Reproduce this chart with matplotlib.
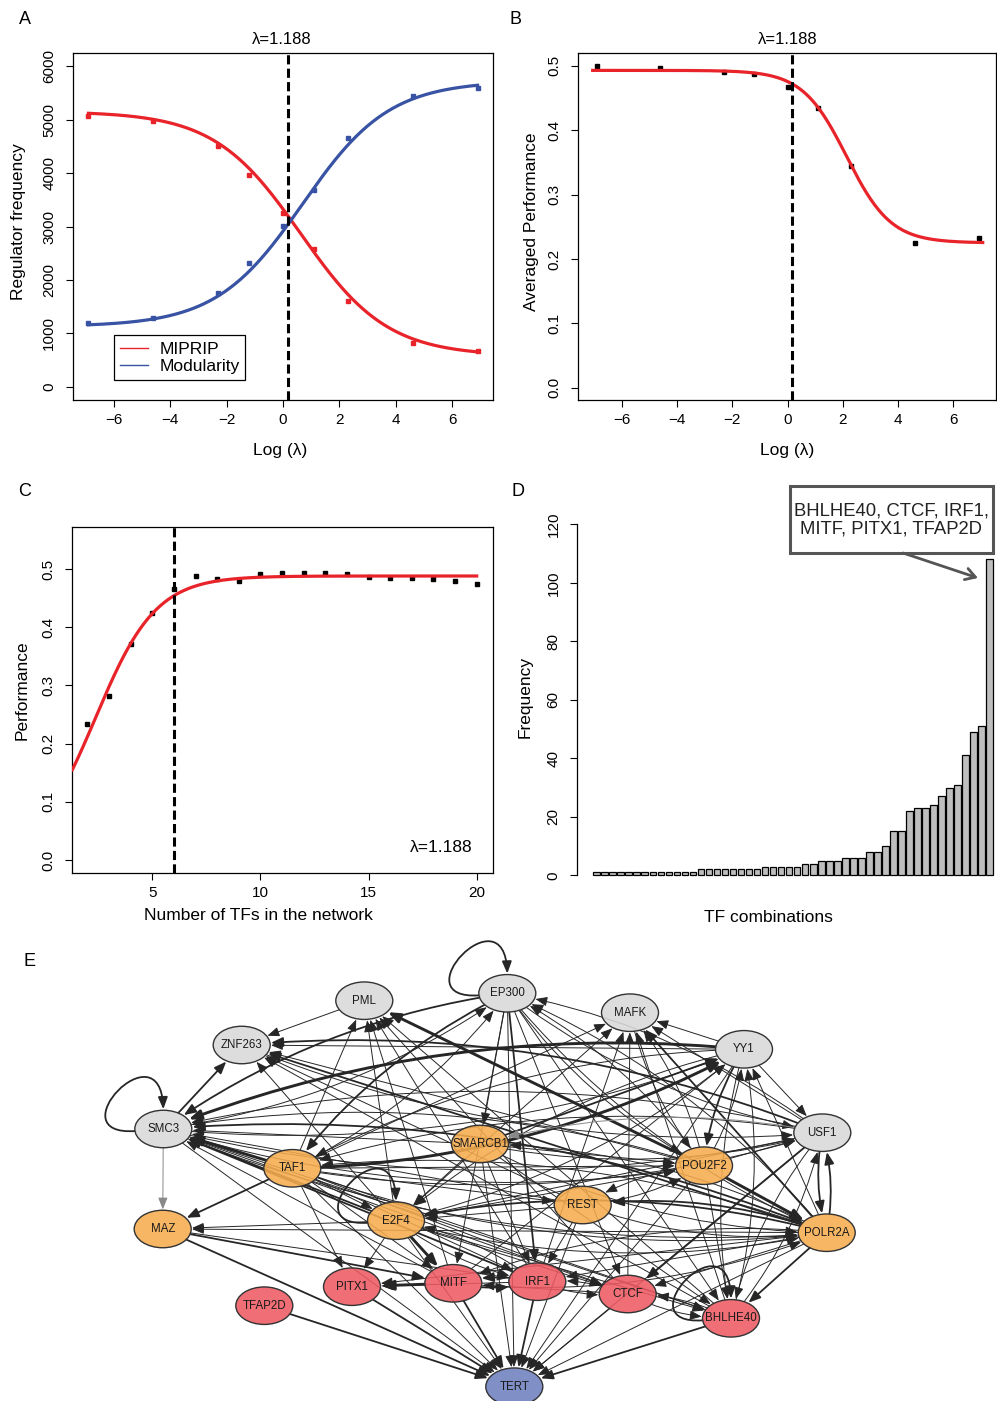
import numpy as np
import matplotlib
matplotlib.use("Agg")
import matplotlib.pyplot as plt
from matplotlib.patches import Ellipse, FancyArrowPatch, Rectangle, ArrowStyle
from matplotlib.path import Path
from matplotlib.lines import Line2D
from matplotlib.colors import to_rgba

plt.rcParams['font.family'] = ['Liberation Sans', 'DejaVu Sans']

# ------------------------------------------------------------------ data
# Panel A
lambda_a = [0.001, 0.01, 0.1, 0.3, 1, 3, 10, 100, 1000]
miprip_freq = [5071, 4978, 4510, 3963, 3258, 2574, 1613, 828, 679]
modularity_freq = [1190, 1295, 1751, 2312, 3009, 3682, 4649, 5439, 5594]
# logistic fits: (left level, right level, midpoint, slope)
miprip_fit = (5150, 580, 0.63, 0.65)
modularity_fit = (1130, 5720, 0.70, 0.65)
lambda_selected = 1.188

# Panel B
lambda_b = [0.001, 0.01, 0.1, 0.3, 1, 3, 10, 100, 1000]
avg_perf_b = [0.500, 0.497, 0.490, 0.488, 0.467, 0.435, 0.345, 0.225, 0.233]
perf_fit_b = (0.493, 0.225, 2.14, 1.25)

# Panel C
n_tfs = [2, 3, 4, 5, 6, 7, 8, 9, 10, 11, 12, 13, 14, 15, 16, 17, 18, 19, 20]
perf_c = [0.233, 0.281, 0.372, 0.425, 0.465, 0.488, 0.483, 0.480, 0.491, 0.493,
          0.493, 0.493, 0.491, 0.487, 0.485, 0.485, 0.483, 0.479, 0.475]
perf_fit_c = (0.0, 0.488, 2.37, 0.715)
n_tfs_selected = 6

# Panel D
combo_freq = [1, 1, 1, 1, 1, 1, 1, 1, 1, 1, 1, 1, 1,
              2, 2, 2, 2, 2, 2, 2, 2,
              3, 3, 3, 3, 3, 4, 4, 5, 5, 5, 6, 6, 6, 8, 8, 10, 15, 15,
              22, 23, 23, 24, 27, 30, 31, 41, 49, 51, 108]
top_combo = "BHLHE40, CTCF, IRF1,\nMITF, PITX1, TFAP2D"

# Panel E: network
node_names = ["EP300", "PML", "MAFK", "ZNF263", "YY1", "SMC3", "USF1",
              "SMARCB1", "TAF1", "POU2F2", "REST", "E2F4", "MAZ", "POLR2A",
              "PITX1", "MITF", "IRF1", "CTCF", "TFAP2D", "BHLHE40", "TERT"]
node_group = ["other", "other", "other", "other", "other", "other", "other",
              "mid", "mid", "mid", "mid", "mid", "mid", "mid",
              "core", "core", "core", "core", "core", "core", "target"]
edges = [
    ("TFAP2D", "TERT", 2), ("MAZ", "TERT", 2), ("PITX1", "TERT", 2), ("TAF1", "TERT", 1),
    ("SMC3", "TERT", 1), ("E2F4", "TERT", 1), ("MITF", "TERT", 2), ("SMARCB1", "TERT", 1),
    ("EP300", "TERT", 1), ("IRF1", "TERT", 2), ("REST", "TERT", 1), ("CTCF", "TERT", 1),
    ("POU2F2", "TERT", 1), ("POLR2A", "TERT", 1), ("BHLHE40", "TERT", 2), ("USF1", "TERT", 1),
    ("YY1", "TERT", 1),
    ("EP300", "EP300", 2), ("SMC3", "SMC3", 2), ("E2F4", "E2F4", 2), ("BHLHE40", "BHLHE40", 2),
    ("SMC3", "MAZ", 1), ("SMC3", "ZNF263", 2), ("EP300", "SMC3", 2), ("YY1", "SMC3", 3),
    ("USF1", "SMC3", 1), ("POLR2A", "SMC3", 2), ("TAF1", "SMC3", 3), ("E2F4", "SMC3", 2),
    ("MITF", "SMC3", 1), ("IRF1", "SMC3", 2), ("CTCF", "SMC3", 1), ("POU2F2", "SMC3", 1),
    ("REST", "SMC3", 1), ("SMARCB1", "SMC3", 1), ("BHLHE40", "SMC3", 1),
    ("SMC3", "USF1", 1), ("SMC3", "YY1", 1), ("SMC3", "POU2F2", 1),
    ("PML", "ZNF263", 1), ("TAF1", "PML", 1), ("MITF", "PML", 1), ("IRF1", "PML", 1),
    ("CTCF", "PML", 1), ("POU2F2", "PML", 3), ("BHLHE40", "PML", 1), ("E2F4", "PML", 1),
    ("YY1", "ZNF263", 1), ("USF1", "ZNF263", 2), ("POLR2A", "ZNF263", 2), ("POU2F2", "ZNF263", 1),
    ("E2F4", "ZNF263", 1), ("REST", "ZNF263", 1), ("BHLHE40", "ZNF263", 1), ("ZNF263", "USF1", 1),
    ("EP300", "TAF1", 2), ("EP300", "SMARCB1", 1), ("EP300", "IRF1", 2), ("EP300", "MITF", 1),
    ("EP300", "CTCF", 1), ("EP300", "BHLHE40", 1), ("EP300", "POLR2A", 1), ("EP300", "POU2F2", 1),
    ("TAF1", "EP300", 1), ("SMC3", "EP300", 1), ("USF1", "EP300", 1), ("POLR2A", "EP300", 1),
    ("TAF1", "MAFK", 1), ("E2F4", "MAFK", 1), ("CTCF", "MAFK", 1), ("IRF1", "MAFK", 1),
    ("BHLHE40", "MAFK", 1), ("POLR2A", "MAFK", 2), ("POU2F2", "MAFK", 1), ("MAFK", "POU2F2", 1),
    ("SMARCB1", "YY1", 2), ("TAF1", "YY1", 3), ("E2F4", "YY1", 1), ("POU2F2", "YY1", 1),
    ("BHLHE40", "YY1", 1), ("POLR2A", "YY1", 1), ("MITF", "YY1", 1), ("YY1", "POU2F2", 2),
    ("YY1", "USF1", 1), ("YY1", "TAF1", 1), ("YY1", "E2F4", 1), ("YY1", "BHLHE40", 1),
    ("YY1", "MAFK", 1),
    ("TAF1", "USF1", 1), ("POU2F2", "USF1", 1), ("POLR2A", "USF1", 2), ("BHLHE40", "USF1", 1),
    ("EP300", "USF1", 1), ("SMARCB1", "USF1", 1), ("USF1", "POLR2A", 2), ("USF1", "CTCF", 2),
    ("USF1", "TAF1", 1), ("USF1", "E2F4", 1), ("USF1", "MAFK", 1), ("USF1", "BHLHE40", 1),
    ("USF1", "SMARCB1", 1),
    ("TAF1", "POU2F2", 1), ("E2F4", "POU2F2", 1), ("SMARCB1", "POU2F2", 1), ("REST", "POU2F2", 1),
    ("POU2F2", "POLR2A", 3), ("POU2F2", "EP300", 1), ("POU2F2", "REST", 1), ("POU2F2", "BHLHE40", 1),
    ("TAF1", "POLR2A", 1), ("E2F4", "POLR2A", 1), ("SMARCB1", "POLR2A", 1), ("REST", "POLR2A", 1),
    ("SMC3", "POLR2A", 1), ("MITF", "POLR2A", 1), ("POLR2A", "MAZ", 1), ("POLR2A", "REST", 2),
    ("POLR2A", "E2F4", 2), ("POLR2A", "MITF", 1), ("POLR2A", "IRF1", 1), ("POLR2A", "CTCF", 1),
    ("POLR2A", "BHLHE40", 2), ("POLR2A", "TAF1", 1), ("POLR2A", "PITX1", 1), ("POLR2A", "SMARCB1", 1),
    ("TAF1", "MAZ", 2), ("TAF1", "PITX1", 1), ("TAF1", "E2F4", 1), ("TAF1", "MITF", 1),
    ("TAF1", "IRF1", 1), ("TAF1", "CTCF", 1), ("TAF1", "BHLHE40", 1), ("TAF1", "REST", 1),
    ("E2F4", "MITF", 3), ("E2F4", "MAZ", 1), ("E2F4", "PITX1", 1), ("E2F4", "IRF1", 1),
    ("E2F4", "CTCF", 1), ("E2F4", "BHLHE40", 1), ("REST", "E2F4", 1), ("SMARCB1", "E2F4", 1),
    ("IRF1", "E2F4", 1),
    ("MITF", "PITX1", 3), ("MITF", "IRF1", 2), ("IRF1", "MITF", 2), ("IRF1", "PITX1", 1),
    ("IRF1", "CTCF", 1), ("CTCF", "IRF1", 1), ("CTCF", "BHLHE40", 1), ("CTCF", "MITF", 1),
    ("BHLHE40", "CTCF", 1), ("REST", "IRF1", 1), ("SMARCB1", "IRF1", 1), ("SMARCB1", "BHLHE40", 1),
    ("MAZ", "MITF", 2), ("MAZ", "IRF1", 1),
]
faint_edges = [("SMC3", "MAZ"), ("USF1", "SMARCB1")]

# ------------------------------------------------------------------ layout / style
W, H = 997, 1401
fig = plt.figure(figsize=(W / 100, H / 100), dpi=100)

RED = '#E8232A'
BLUE = '#3953A4'
TICK_FS = 11
LAB_FS = 12.5


def fxy(px, py):
    return px / W, 1 - py / H


def add_ax(l, t, r, b):
    return fig.add_axes([l / W, 1 - b / H, (r - l) / W, (b - t) / H])


def logistic(x, p):
    left, right, mid, k = p
    return left + (right - left) / (1 + np.exp(-k * (x - mid)))


def style_axes(ax):
    ax.tick_params(direction='out', length=5, width=0.8, labelsize=TICK_FS,
                   pad=4.5, colors='black')
    ax.tick_params(axis='y', pad=7)
    for s in ax.spines.values():
        s.set_linewidth(0.9)
    plt.setp(ax.get_yticklabels(), rotation=90, va='center')


def ftext(px, py, s, **kw):
    x, y = fxy(px, py)
    fig.text(x, y, s, **kw)


# ---------------- Panel A
axA = add_ax(73, 53, 493, 400)
xa = np.log(lambda_a)
xs = np.linspace(xa.min(), xa.max(), 300)
axA.plot(xa, miprip_freq, 's', color=RED, ms=3.2, zorder=3)
axA.plot(xa, modularity_freq, 's', color=BLUE, ms=3.2, zorder=3)
axA.plot(xs, logistic(xs, miprip_fit), color=RED, lw=2.3, zorder=4)
axA.plot(xs, logistic(xs, modularity_fit), color=BLUE, lw=2.3, zorder=4)
axA.axvline(np.log(lambda_selected), color='black', lw=2.2, ls=(0, (3, 1.4)), zorder=5)
axA.set_xlim(-7.455, 7.455)
axA.set_ylim(-243, 6243)
axA.set_xticks([-6, -4, -2, 0, 2, 4, 6])
axA.set_xticklabels(['\u22126', '\u22124', '\u22122', '0', '2', '4', '6'])
axA.set_yticks([0, 1000, 2000, 3000, 4000, 5000, 6000])
style_axes(axA)
leg = axA.legend([Line2D([], [], color=RED, lw=1), Line2D([], [], color=BLUE, lw=1)],
                 ['MIPRIP', 'Modularity'], loc='lower left',
                 bbox_to_anchor=(0.0976, 0.0576), borderaxespad=0, fontsize=12.5,
                 handlelength=1.6, handletextpad=0.65, borderpad=0.35,
                 labelspacing=0.12, fancybox=False, framealpha=1, edgecolor='black')
leg.get_frame().set_linewidth(0.9)
ftext(282, 39, '\u03bb=1.188', ha='center', va='center', fontsize=12)
ftext(280, 451, 'Log (\u03bb)', ha='center', va='center', fontsize=LAB_FS)
ftext(18, 222, 'Regulator frequency', ha='center', va='center', rotation=90, fontsize=LAB_FS)

# ---------------- Panel B
axB = add_ax(578, 53, 996, 400)
xb = np.log(lambda_b)
xsb = np.linspace(-7.05, 7.06, 300)
axB.plot(xb, avg_perf_b, 's', color='black', ms=3.2, zorder=3)
axB.plot(xsb, logistic(xsb, perf_fit_b), color=RED, lw=2.3, zorder=4)
axB.axvline(np.log(lambda_selected), color='black', lw=2.2, ls=(0, (3, 1.4)), zorder=5)
axB.set_xlim(-7.58, 7.54)
axB.set_ylim(-0.0191, 0.520)
axB.set_xticks([-6, -4, -2, 0, 2, 4, 6])
axB.set_xticklabels(['\u22126', '\u22124', '\u22122', '0', '2', '4', '6'])
axB.set_yticks([0, 0.1, 0.2, 0.3, 0.4, 0.5])
axB.set_yticklabels(['0.0', '0.1', '0.2', '0.3', '0.4', '0.5'])
style_axes(axB)
ftext(788, 39, '\u03bb=1.188', ha='center', va='center', fontsize=12)
ftext(787, 451, 'Log (\u03bb)', ha='center', va='center', fontsize=LAB_FS)
ftext(531, 222, 'Averaged Performance', ha='center', va='center', rotation=90, fontsize=LAB_FS)

# ---------------- Panel C
axC = add_ax(72.3, 526.7, 492.7, 872.7)
xsc = np.linspace(1.30, 20, 300)
axC.plot(n_tfs, perf_c, 's', color='black', ms=3.2, zorder=3)
axC.plot(xsc, logistic(xsc, perf_fit_c), color=RED, lw=2.3, zorder=4)
axC.axvline(n_tfs_selected, color='black', lw=2.2, ls=(0, (3, 1.4)), zorder=5)
axC.set_xlim(1.30, 20.74)
axC.set_ylim(-0.0218, 0.5727)
axC.set_xticks([5, 10, 15, 20])
axC.set_yticks([0, 0.1, 0.2, 0.3, 0.4, 0.5])
axC.set_yticklabels(['0.0', '0.1', '0.2', '0.3', '0.4', '0.5'])
style_axes(axC)
axC.text(0.951, 0.072, '\u03bb=1.188', transform=axC.transAxes, ha='right',
         va='center', fontsize=12.5)
ftext(258, 916, 'Number of TFs in the network', ha='center', va='center', fontsize=LAB_FS)
ftext(22, 690, 'Performance', ha='center', va='center', rotation=90, fontsize=LAB_FS)

# ---------------- Panel D
axD = add_ax(577.3, 515, 997, 880)
pos = np.arange(len(combo_freq))
axD.bar(pos, combo_freq, width=0.85, color='#BEBEBE', edgecolor='black', linewidth=0.9)
axD.set_xlim(-2.44, 49.96)
axD.set_ylim(-1.6, 123.2)
for s in ['top', 'right', 'bottom']:
    axD.spines[s].set_visible(False)
axD.spines['left'].set_bounds(0, 120)
axD.set_xticks([])
axD.set_yticks([0, 20, 40, 60, 80, 100, 120])
style_axes(axD)
ftext(768, 917, 'TF combinations', ha='center', va='center', fontsize=LAB_FS)
ftext(525, 697, 'Frequency', ha='center', va='center', rotation=90, fontsize=LAB_FS)
bx0, by0 = fxy(790, 553)
bx1, by1 = fxy(992.5, 486)
fig.patches.append(Rectangle((bx0, by0), bx1 - bx0, by1 - by0, transform=fig.transFigure,
                             facecolor='white', edgecolor='#555555', lw=2.2, zorder=5))
ftext(891, 520, top_combo, ha='center', va='center', fontsize=13.3,
      linespacing=1.12, color='#222222', zorder=6)
a0 = fxy(903, 553)
a1 = fxy(978, 578)
fig.patches.append(FancyArrowPatch(a0, a1, transform=fig.transFigure,
                                   arrowstyle='->,head_length=0.5,head_width=0.3',
                                   mutation_scale=14, color='#555555', lw=2.0,
                                   shrinkA=0, shrinkB=0, zorder=5))

# ---------------- Panel letters
for lab, (px, py) in zip('ABCDE', [(25, 19), (515, 19), (25, 491), (518, 491), (29, 961)]):
    ftext(px, py, lab, ha='center', va='center', fontsize=13)

# ---------------- Panel E: network
layout = {
    "EP300": (507.3, 993.3), "PML": (364.3, 1000.7), "MAFK": (630, 1012.7),
    "ZNF263": (241.7, 1045), "YY1": (744, 1049.3), "SMC3": (163.3, 1129),
    "USF1": (822.3, 1132.7), "SMARCB1": (480, 1144), "TAF1": (292.3, 1168.3),
    "POU2F2": (704, 1165.7), "REST": (582.7, 1205), "E2F4": (396, 1220.7),
    "MAZ": (162.7, 1229), "POLR2A": (826.7, 1232.7), "PITX1": (352, 1286.7),
    "MITF": (453.3, 1283.3), "IRF1": (537.3, 1281.7), "CTCF": (627.7, 1294),
    "TFAP2D": (264.3, 1305.7), "BHLHE40": (731, 1318.3), "TERT": (514.3, 1386.7),
}
group_color = {"other": '#D9D9D9', "mid": '#F5AC4E', "core": '#EE5A62', "target": '#6E80BE'}
NODE_W, NODE_H = 57, 37.5

axE = fig.add_axes([0, 0, 1, (H - 925) / H])
axE.set_xlim(0, W)
axE.set_ylim(H, 925)
axE.axis('off')

ells = {}
for name, grp in zip(node_names, node_group):
    cx, cy = layout[name]
    e = Ellipse((cx, cy), NODE_W, NODE_H, facecolor=to_rgba(group_color[grp], 0.88),
                edgecolor='#333333', lw=1.0, zorder=3)
    axE.add_patch(e)
    ells[name] = e
    axE.text(cx, cy, name, ha='center', va='center', fontsize=8.3, color='#1a1a1a', zorder=4)

edge_set = set((s, t) for s, t, w in edges)
width_of = {1: 0.7, 2: 1.3, 3: 2.1}
head = ArrowStyle('-|>', head_length=0.55, head_width=0.22)
for s, t, w in edges:
    col = '#888888' if (s, t) in faint_edges else '#262626'
    lw = width_of[w]
    if s == t:
        cx, cy = layout[s]
        a, b = NODE_W / 2, NODE_H / 2
        verts = [(cx - a + 1, cy + 2), (cx - a - 80, cy + 8), (cx - 3, cy - b - 85), (cx, cy - b - 1)]
        path = Path(verts, [Path.MOVETO, Path.CURVE4, Path.CURVE4, Path.CURVE4])
        axE.add_patch(FancyArrowPatch(path=path, arrowstyle=head, mutation_scale=13,
                                      color=col, lw=lw, shrinkA=0, shrinkB=0, zorder=2))
        continue
    rad = 0.12 if (t, s) in edge_set else 0.0
    axE.add_patch(FancyArrowPatch(layout[s], layout[t], patchA=ells[s], patchB=ells[t],
                                  arrowstyle=head, mutation_scale=13,
                                  connectionstyle=f"arc3,rad={rad}",
                                  color=col, lw=lw, shrinkA=0, shrinkB=1, zorder=2))

fig.savefig('out.png', dpi=100)
